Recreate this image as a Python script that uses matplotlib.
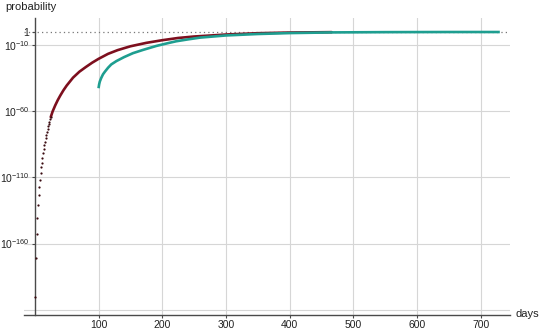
import numpy as np
import matplotlib
matplotlib.use("Agg")
import matplotlib.pyplot as plt

# early days: single dots (log10 of probability)
red_dot_days = list(range(1, 26))
red_dot_log = [-200.5, -170.7, -153.0, -140.7, -131.0, -123.2, -117.2, -111.6, -106.6, -102.0,
               -98.7, -95.0, -91.5, -88.5, -85.5, -82.8, -80.2, -77.8, -75.5, -73.4,
               -71.4, -69.5, -67.7, -66.0, -64.3]

# later days: dots merge into a line
red_days = [25, 28, 32, 36, 40, 45, 50, 60, 70, 80, 90, 100, 115, 130, 150, 175,
            200, 225, 250, 300, 350, 400, 466]
red_log = [-64.3, -60.0, -55.5, -51.5, -48.0, -44.0, -40.5, -34.5, -30.0, -26.5, -23.2,
           -20.3, -16.5, -13.7, -10.8, -8.2, -6.2, -4.5, -3.4, -1.9, -0.9, -0.4, -0.1]

teal_days = [100, 101, 102, 104, 107, 110, 115, 120, 128, 140, 154, 170, 191, 210, 222,
             240, 260, 300, 350, 400, 466, 550, 650, 730]
teal_log = [-42.5, -39.5, -37.5, -35.0, -32.0, -30.0, -27.0, -24.5, -22.0, -19.0, -16.0,
            -13.5, -10.5, -8.3, -7.0, -5.6, -4.2, -2.6, -1.5, -0.8, -0.3, -0.1, 0.0, 0.0]

x_ticks = [100, 200, 300, 400, 500, 600, 700]
y_ticks = [0, -10, -60, -110, -160]
y_tick_labels = ["1", r"$10^{-10}$", r"$10^{-60}$", r"$10^{-110}$", r"$10^{-160}$"]
y_grid = [-10, -60, -110, -160, -210]

plt.rcParams["font.family"] = ["Liberation Sans", "DejaVu Sans"]
plt.rcParams["mathtext.fontset"] = "custom"
plt.rcParams["mathtext.rm"] = "Liberation Sans"
plt.rcParams["mathtext.it"] = "Liberation Sans"

red = "#7d0f1e"
teal = "#1e9e90"
axis_col = "#4a4a4a"
grid_col = "#d6d6d6"

fig = plt.figure(figsize=(5.4, 3.31), dpi=100)
ax = fig.add_axes([24 / 540, 16 / 331, (510 - 24) / 540, (315 - 18) / 331])

ax.set_yscale("log")
ax.set_xlim(-17, 746)
ax.set_ylim(10.0 ** -214, 10.0 ** 10.6)

for g in y_grid:
    ax.axhline(10.0 ** g, color=grid_col, lw=0.8, zorder=0)
for t in x_ticks:
    ax.axvline(t, color=grid_col, lw=0.8, zorder=0)
ax.axhline(1.0, color="#777777", lw=0.9, ls=(0, (1, 2.5)), zorder=1)

ax.plot(red_days, 10.0 ** np.array(red_log), color=red, lw=1.9, zorder=3,
        solid_capstyle="round")
ax.plot(red_dot_days, 10.0 ** np.array(red_dot_log), ls="none", marker="o",
        ms=1.6, mfc="#3a0a10", mec="none", zorder=3)
ax.plot(teal_days, 10.0 ** np.array(teal_log), color=teal, lw=1.9, zorder=4,
        solid_capstyle="butt")

for s in ["top", "right"]:
    ax.spines[s].set_visible(False)
ax.spines["left"].set_position(("data", 0))
ax.spines["left"].set_bounds(10.0 ** -214, 10.0 ** 10.6)
for s in ["left", "bottom"]:
    ax.spines[s].set_color(axis_col)
    ax.spines[s].set_linewidth(1.0)

ax.set_xticks(x_ticks)
ax.set_xticklabels([str(t) for t in x_ticks])
ax.set_yticks([10.0 ** v for v in y_ticks])
ax.set_yticklabels(y_tick_labels)
ax.yaxis.set_minor_locator(matplotlib.ticker.NullLocator())
ax.tick_params(axis="both", direction="out", length=2.5, width=0.8, color=axis_col,
               labelsize=7.5, labelcolor="#222222")
ax.tick_params(axis="x", pad=1)
ax.tick_params(axis="y", pad=1.5)

fig.text(5 / 540, 1 - 7 / 331, "probability", fontsize=8, color="#222222",
         ha="left", va="center")
fig.text(515 / 540, 1 - 314 / 331, "days", fontsize=8, color="#222222",
         ha="left", va="center")

fig.savefig("out.png", dpi=100)
